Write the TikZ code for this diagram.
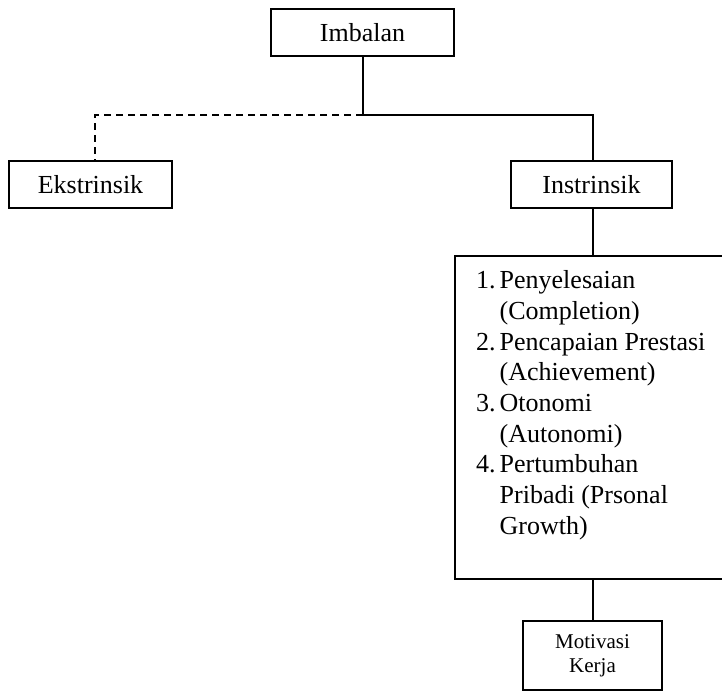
\documentclass[tikz,border=0pt]{standalone}
\usepackage{fontspec}
\setmainfont{Liberation Serif}
\begin{document}
\begin{tikzpicture}[x=1pt,y=-1pt,
  box/.style={draw,line width=1.5pt,rectangle,inner sep=0pt,
    font=\fontsize{26}{30.7}\selectfont},
  link/.style={line width=1.5pt},
  dashlink/.style={line width=1.5pt,dash pattern=on 7pt off 5pt}]
\useasboundingbox (0,0) rectangle (722,691);
\clip (0,0) rectangle (722,691);

% top level
\node[box,minimum width=183pt,minimum height=47pt] (imb) at (362.5,32.5) {Imbalan};

% two kinds of reward
\node[box,minimum width=163pt,minimum height=47pt] (ekst) at (90.5,184.5) {Ekstrinsik};
\node[box,minimum width=161pt,minimum height=47pt] (inst) at (591.5,184.5) {Instrinsik};

% list of intrinsic rewards (box runs past the right border)
\node[box,anchor=north west,minimum width=320pt,minimum height=323pt] (lst) at (454,255) {};
\node[anchor=north west,inner sep=0pt,font=\fontsize{26}{30.7}\selectfont] (lsttext) at (476,267)
{\begin{tabular}{@{}l@{\hspace{4pt}}l@{}}
1. & Penyelesaian\\
   & (Completion)\\
2. & Pencapaian Prestasi\\
   & (Achievement)\\
3. & Otonomi\\
   & (Autonomi)\\
4. & Pertumbuhan\\
   & Pribadi (Prsonal\\
   & Growth)
\end{tabular}};

% outcome
\node[box,minimum width=139pt,minimum height=69pt,align=center,
  font=\fontsize{21}{24}\selectfont] (mot) at (592.5,655.5) {Motivasi\\Kerja};

% connectors
\coordinate (j) at ([xshift=0.5pt]imb.south |- 0,115);
\draw[link] ([xshift=0.5pt]imb.south) -- (j);
\draw[dashlink] (j) -| ([xshift=4.5pt]ekst.north);
\draw[link] (j) -| ([xshift=1.5pt]inst.north);
\draw[link] ([xshift=1.5pt]inst.south) -- ([xshift=1.5pt]inst.south |- lst.north);
\draw[link] ([xshift=0.5pt]lst.south -| mot.north) -- ([xshift=0.5pt]mot.north);
\end{tikzpicture}
\end{document}
